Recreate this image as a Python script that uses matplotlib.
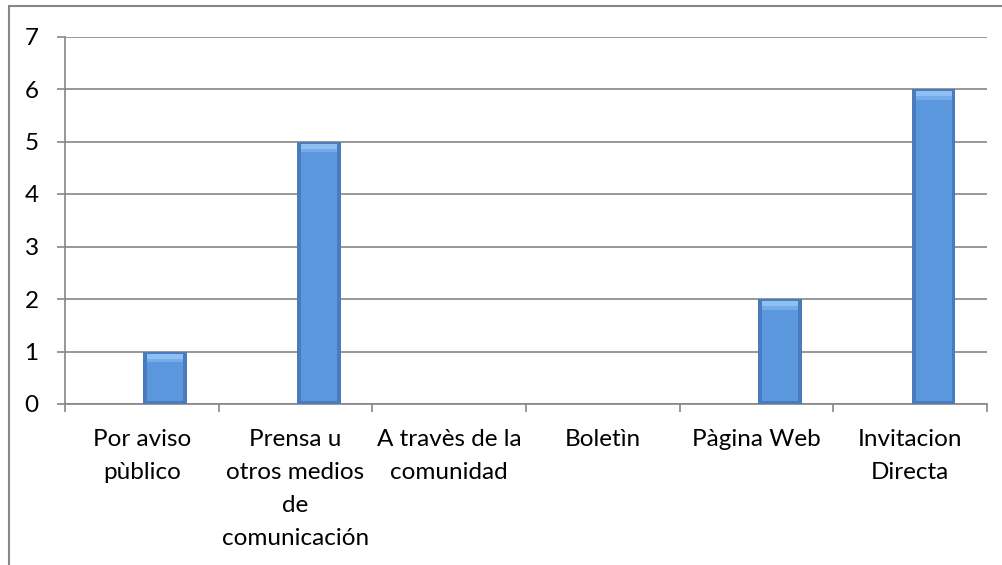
import matplotlib
matplotlib.use('Agg')
import matplotlib.pyplot as plt
import numpy as np
from matplotlib.patches import Rectangle

plt.rcParams['font.family'] = ['Lato', 'DejaVu Sans']

# datos
categorias = ['Por aviso\npùblico', 'Prensa u\notros medios\nde\ncomunicación',
              'A travès de la\ncomunidad', 'Boletìn', 'Pàgina Web', 'Invitacion\nDirecta']
valores = [1, 5, 0, 0, 2, 6]

gris = '#868686'
fig = plt.figure(figsize=(10.03, 5.65), dpi=100)
ax = fig.add_axes([65/1003, 1-404/565, (987-65)/1003, (404-36.5)/565])

x = np.arange(len(categorias))
v = np.array(valores, dtype=float)
m = v > 0
x0 = x[m] + 0.01
w = 0.285
ins = 0.025

# barra con bisel (capas)
ax.bar(x0, v[m], width=w, align='edge', color='#4a7cbd', zorder=3)
ax.bar(x0 + ins, v[m] - 0.2, bottom=0.06, width=w - 2*ins, align='edge', color='#5b97dd', zorder=4)
ax.bar(x0 + ins, 0.1, bottom=v[m] - 0.14, width=w - 2*ins, align='edge', color='#8fc0f2', zorder=4)
ax.bar(x0 + ins, 0.06, bottom=v[m] - 0.2, width=w - 2*ins, align='edge', color='#74abe8', zorder=4)

ax.set_xlim(-0.5, 5.5)
ax.set_ylim(0, 7)
ax.set_yticks(range(0, 8))
ax.grid(axis='y', color=gris, linewidth=1.2, zorder=1)
ax.set_axisbelow(True)

ax.set_xticks(np.arange(-0.5, 6, 1))
ax.set_xticklabels([])
ax.set_xticks(x, minor=True)
ax.set_xticklabels(categorias, minor=True, linespacing=1.7)
ax.tick_params(axis='x', which='major', length=6, color=gris, width=1.2)
ax.tick_params(axis='x', which='minor', length=0, pad=18, labelsize=17.5)
ax.tick_params(axis='y', length=6, color=gris, width=1.2, pad=13, labelsize=17.5)

for s in ['top', 'right']:
    ax.spines[s].set_visible(False)
for s in ['left', 'bottom']:
    ax.spines[s].set_color(gris)
    ax.spines[s].set_linewidth(1.2)

# borde del gráfico
fig.patches.append(Rectangle((9/1003, -0.1), 1.2, 1.1 - 6/565, transform=fig.transFigure,
                             fill=False, edgecolor=gris, linewidth=1.5))

plt.savefig('out.png', dpi=100)
